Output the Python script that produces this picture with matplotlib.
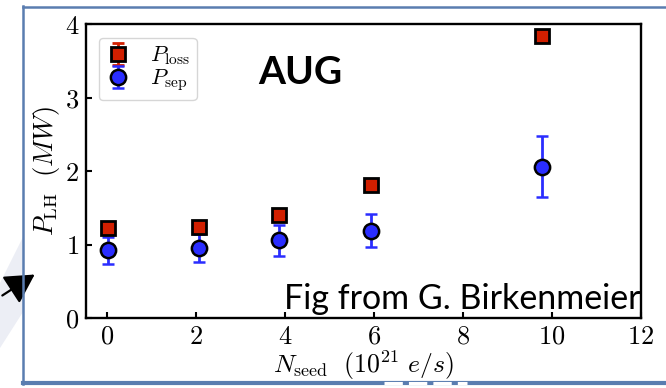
import matplotlib
matplotlib.use("Agg")
import matplotlib.pyplot as plt
from matplotlib.patches import Polygon, FancyArrowPatch
from matplotlib.lines import Line2D

plt.rcParams['mathtext.fontset'] = 'cm'

# ---- data ----
n_seed_loss = [0.02, 2.07, 3.86, 5.92, 9.78]
p_loss = [1.22, 1.24, 1.40, 1.81, 3.84]
p_loss_err = [0.04, 0.04, 0.04, 0.04, 0.04]

n_seed_sep = [0.02, 2.07, 3.86, 5.92, 9.78]
p_sep = [0.92, 0.95, 1.06, 1.19, 2.06]
p_sep_err = [0.18, 0.19, 0.21, 0.23, 0.41]

xticks = [0, 2, 4, 6, 8, 10, 12]
yticks = [0, 1, 2, 3, 4]

W, H = 666, 388
fig = plt.figure(figsize=(W / 100, H / 100), dpi=100)
fig.patch.set_facecolor('white')

def fx(x):
    return x / W

def fy(y):
    return 1 - y / H

# background decorative band
band = Polygon([(fx(0), fy(283)), (fx(23), fy(237)), (fx(23), fy(312)), (fx(0), fy(348))],
               closed=True, transform=fig.transFigure, facecolor='#eceef5', edgecolor='none', zorder=0)
fig.patches.append(band)

# slide frame
frame_col = '#5a7db0'
fig.add_artist(Line2D([fx(23), fx(23)], [fy(6), fy(384)], color=frame_col, lw=1.8, transform=fig.transFigure))
fig.add_artist(Line2D([fx(23), fx(666)], [fy(6.5), fy(6.5)], color=frame_col, lw=1.8, transform=fig.transFigure))
fig.add_artist(Line2D([fx(23), fx(666)], [fy(383), fy(383)], color=frame_col, lw=3, transform=fig.transFigure))
fig.add_artist(Line2D([fx(384), fx(467)], [fy(383), fy(383)], color='white', lw=2.2,
                      linestyle=(0, (6, 2)), transform=fig.transFigure))

ax = fig.add_axes([fx(86), fy(318), fx(641) - fx(86), fy(24) - fy(318)])
ax.set_facecolor('white')

ax.errorbar(n_seed_loss, p_loss, yerr=p_loss_err, fmt='s', color='#d11f00', ecolor='#d11f00',
            markersize=10.5, markeredgecolor='black', markeredgewidth=2.0, elinewidth=2,
            capsize=4.5, capthick=2, label=r'$P_{\rm loss}$', zorder=3)
ax.errorbar(n_seed_sep, p_sep, yerr=p_sep_err, fmt='o', color='#2a2dff', ecolor='#2a2dff',
            markersize=11, markeredgecolor='black', markeredgewidth=1.8, elinewidth=2,
            capsize=4.5, capthick=2, label=r'$P_{\rm sep}$', zorder=3)

ax.set_xlim(-0.48, 12)
ax.set_ylim(0, 4)
ax.set_xticks(xticks)
ax.set_yticks(yticks)
ax.set_xticklabels([f'${v}$' for v in xticks])
ax.set_yticklabels([f'${v}$' for v in yticks])
ax.tick_params(direction='in', length=4, width=1.5, labelsize=19, pad=4)
ax.tick_params(axis='y', pad=5)
for s in ax.spines.values():
    s.set_linewidth(1.7)
    s.set_color('black')

ax.set_xlabel(r'$N_{\rm seed}\ \ (10^{21}\ e/s)$', fontsize=18.5, labelpad=-1)
ax.set_ylabel(r'$P_{\rm LH}\ \ (MW)$', fontsize=19, labelpad=2)

leg = ax.legend(loc='upper left', fontsize=16, frameon=True, handlelength=1.1,
                borderpad=0.3, labelspacing=0.0, handletextpad=0.9,
                bbox_to_anchor=(0.003, 0.99))
leg.get_frame().set_edgecolor('#cccccc')
leg.get_frame().set_linewidth(1.0)

fig.text(fx(300), fy(72), 'AUG', fontsize=28, fontweight='bold', family='Lato',
         ha='center', va='center')
fig.text(fx(641), fy(309), 'Fig from G. Birkenmeier', fontsize=24.5, family='Lato',
         ha='right', va='baseline', zorder=5)

# arrow
fig.add_artist(FancyArrowPatch((fx(0), fy(297)), (fx(37), fy(273)),
               transform=fig.transFigure, arrowstyle='-|>,head_length=0.9,head_width=0.5',
               mutation_scale=20, color='black', lw=1.6))

fig.savefig('out.png', dpi=100)
